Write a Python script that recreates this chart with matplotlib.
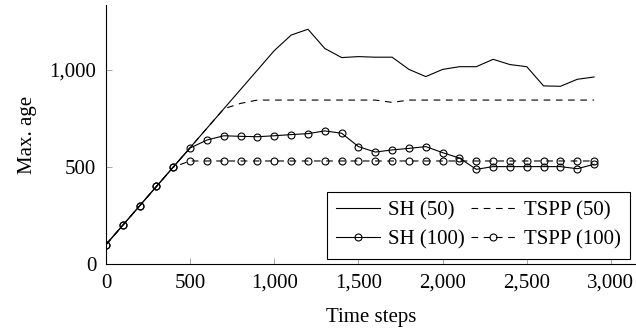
import matplotlib.pyplot as plt
from matplotlib.ticker import FuncFormatter

plt.rcParams['font.family'] = ['Liberation Serif', 'DejaVu Serif']
plt.rcParams['font.size'] = 15

steps = list(range(0, 3000, 100))

sh_50 = [100, 200, 300, 400, 500, 600, 700, 800, 900, 1000,
         1100, 1180, 1210, 1111, 1064, 1069, 1066, 1066, 1003, 966,
         1003, 1017, 1017, 1055, 1028, 1017, 918, 916, 952, 964]
tspp_50 = [100, 200, 300, 400, 500, 600, 700, 800, 828, 845,
           845, 845, 845, 845, 845, 845, 845, 833, 845, 845,
           845, 845, 845, 845, 845, 845, 845, 845, 845, 845]
sh_100 = [100, 200, 300, 400, 500, 598, 639, 661, 658, 656,
          661, 667, 672, 686, 674, 605, 577, 588, 596, 605,
          574, 546, 488, 502, 502, 502, 502, 502, 491, 514]
tspp_100 = [100, 200, 300, 400, 500, 531, 531, 531, 531, 531,
            531, 531, 531, 531, 531, 531, 531, 531, 531, 531,
            531, 531, 531, 531, 531, 531, 531, 531, 531, 531]

W, H = 636, 332
fig = plt.figure(figsize=(W / 100, H / 100), dpi=100)
ax = fig.add_axes([106 / W, (H - 264) / H, (W - 106) / W, (264 - 5) / H])

lw = 0.8
dash = (0, (6, 5))
mk = dict(marker='o', markersize=5, markerfacecolor='none',
          markeredgecolor='black', markeredgewidth=0.8)

l1, = ax.plot(steps, sh_50, color='black', lw=lw, label='SH (50)')
l2, = ax.plot(steps, tspp_50, color='black', lw=lw, ls=dash,
              label='TSPP (50)')
l3, = ax.plot(steps, sh_100, color='black', lw=lw, label='SH (100)', **mk)
l4, = ax.plot(steps, tspp_100, color='black', lw=lw, ls=dash,
              label='TSPP (100)', **mk)

ax.set_xlim(0, 3149)
ax.set_ylim(0, 1335)
ax.set_xticks([0, 500, 1000, 1500, 2000, 2500, 3000])
ax.set_yticks([0, 500, 1000])
fmt = FuncFormatter(lambda v, p: f'{int(v):,}')
ax.xaxis.set_major_formatter(fmt)
ax.yaxis.set_major_formatter(fmt)
ax.tick_params(direction='in', length=4, width=0.6, color='#999999',
               labelsize=15)
ax.tick_params(axis='x', pad=7)
ax.tick_params(axis='y', pad=7)

for s in ['top', 'right']:
    ax.spines[s].set_visible(False)
for s in ['left', 'bottom']:
    ax.spines[s].set_linewidth(0.8)

ax.set_xlabel('Time steps', labelpad=11)
ax.set_ylabel('Max. age', labelpad=9)

leg = fig.legend(handles=[l1, l3, l2, l4], ncol=2, loc='lower left',
                 bbox_to_anchor=(327 / W, (H - 259) / H),
                 frameon=True, fancybox=False, edgecolor='black',
                 framealpha=1, handlelength=2.1, handletextpad=0.4,
                 columnspacing=0.3, labelspacing=0.45, borderpad=0.45,
                 borderaxespad=0)
leg.get_frame().set_linewidth(0.8)

fig.savefig('out.png', dpi=100)
